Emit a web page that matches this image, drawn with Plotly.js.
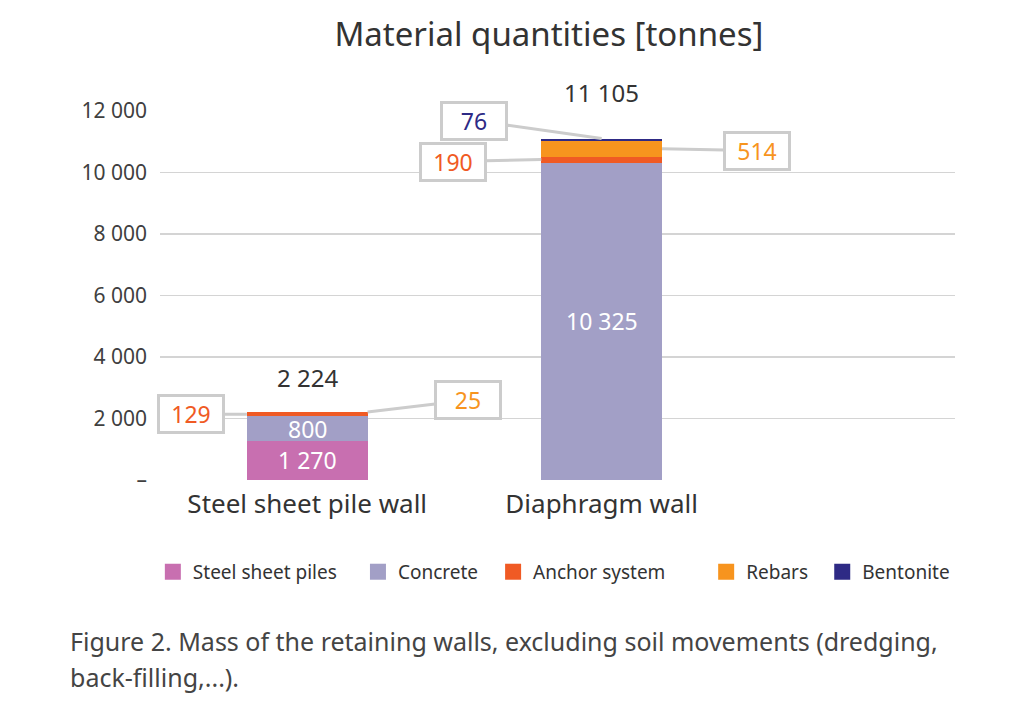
<!DOCTYPE html>
<html><head><meta charset="utf-8">
<script src="https://cdn.plot.ly/plotly-3.0.1.min.js"></script>
<style>html,body{margin:0;padding:0;background:#fff}#chart{width:1024px;height:712px}</style>
</head><body><div id="chart"></div>
<script>
var categories = ["Steel sheet pile wall", "Diaphragm wall"];
var seriesNames = ["Steel sheet piles", "Concrete", "Anchor system", "Rebars", "Bentonite"];
var steelSheetPiles = [1270, null];
var concrete = [800, 10325];
var anchorSystem = [129, 190];
var rebars = [25, 514];
var bentonite = [null, 76];
var totals = [2224, 11105];
var tickVals = [0, 2000, 4000, 6000, 8000, 10000, 12000];
var tickText = ["–", "2 000", "4 000", "6 000", "8 000", "10 000", "12 000"];

var colors = ["#c86fb0", "#a29fc6", "#f05a24", "#f7941e", "#2e2a85"];
var FONT = "'Noto Sans', 'Open Sans', sans-serif";
var series = [steelSheetPiles, concrete, anchorSystem, rebars, bentonite];
var legendX = [-0.009, 0.249, 0.419, 0.687, 0.833];
function fmt(v){ return String(v).replace(/\B(?=(\d{3})+(?!\d))/g, " "); }

var traces = [];
series.forEach(function(vals, i){
  traces.push({
    type: "bar", x: categories, y: vals, name: seriesNames[i],
    marker: {color: colors[i]}, width: 0.41, showlegend: false,
    hoverinfo: "skip"
  });
});
series.forEach(function(vals, i){
  traces.push({
    type: "scatter", mode: "markers", x: [categories[0]], y: [null],
    name: seriesNames[i], marker: {symbol: "square", size: 20, color: colors[i]},
    showlegend: true, legend: i === 0 ? "legend" : "legend" + (i + 1)
  });
});

var anns = [];
function cum(idx, cat){ var s=0; for (var k=0;k<idx;k++){ s += series[k][cat]||0; } return s; }
[[0,0],[1,0],[1,1]].forEach(function(p){
  var si=p[0], ci=p[1], v=series[si][ci];
  anns.push({x: categories[ci], y: cum(si,ci)+v/2, text: fmt(v), showarrow:false,
    font:{family:FONT, size:23, color:"#ffffff"}});
});
var totShift = [16, 28];
totals.forEach(function(t, ci){
  anns.push({x: categories[ci], y: t, text: fmt(t), showarrow:false, yanchor:"bottom", yshift: totShift[ci],
    font:{family:FONT, size:24, color:"#333333"}});
});
var callouts = [
  [2, 0, -1, -56, 0],
  [3, 0, 1, 100, -12],
  [4, 1, 0, -128, -18],
  [2, 1, -1, -88, 2],
  [3, 1, 1, 95, 2]
];
callouts.forEach(function(c){
  var si=c[0], ci=c[1], v=series[si][ci];
  var xpos = ci + c[2]*0.205;
  var yv = cum(si,ci) + (c[2]===0 ? v : v/2);
  anns.push({x: xpos, y: yv, xref:"x", yref:"y", text: fmt(v), showarrow:true, arrowhead:0,
    arrowwidth:3, arrowcolor:"#cccccc", ax:c[3], ay:c[4],
    bordercolor:"#cccccc", borderwidth:3, borderpad:3, bgcolor:"#ffffff",
    width: 56, height: 28,
    font:{family:FONT, size:23, color: colors[si]}});
});
anns.push({xref:"paper", yref:"paper", x:-0.116, y:-0.385, xanchor:"left", yanchor:"top", showarrow:false,
  text:"Figure 2. Mass of the retaining walls, excluding soil movements (dredging,",
  font:{family:FONT, size:25, color:"#444444"}});
anns.push({xref:"paper", yref:"paper", x:-0.116, y:-0.483, xanchor:"left", yanchor:"top", showarrow:false,
  text:"back-filling,...).", font:{family:FONT, size:25, color:"#444444"}});

var layout = {
  width:1024, height:712, barmode:"stack",
  margin:{l:160, r:69, t:111, b:232},
  paper_bgcolor:"#ffffff", plot_bgcolor:"#ffffff",
  font:{family:FONT, color:"#404040"},
  title:{text:"Material quantities [tonnes]", xref:"container", x:0.536, y:0.951, yanchor:"middle",
    font:{family:FONT, size:33, color:"#333333"}},
  xaxis:{type:"category", range:[-0.5, 2.2], showgrid:false, showline:false, ticks:"",
    tickfont:{family:FONT, size:26, color:"#333333"}, ticklabelstandoff:6, fixedrange:true},
  yaxis:{range:[0, 12000], tickvals:tickVals, ticktext:tickText, showgrid:true, gridcolor:"#d4d4d4",
    gridwidth:1.5, zeroline:false, showline:false, ticks:"", ticklabelstandoff:12,
    tickfont:{family:FONT, size:21, color:"#404040"}},
  showlegend:true,
  annotations: anns
};
legendX.forEach(function(lx, i){
  layout[i === 0 ? "legend" : "legend" + (i + 1)] = {
    orientation:"h", x:lx, y:-0.249, yanchor:"middle", xanchor:"left",
    bgcolor:"rgba(0,0,0,0)", itemwidth:30,
    font:{family:FONT, size:19, color:"#333333"}
  };
});
Plotly.newPlot("chart", traces, layout, {displayModeBar:false, staticPlot:true});
</script></body></html>
